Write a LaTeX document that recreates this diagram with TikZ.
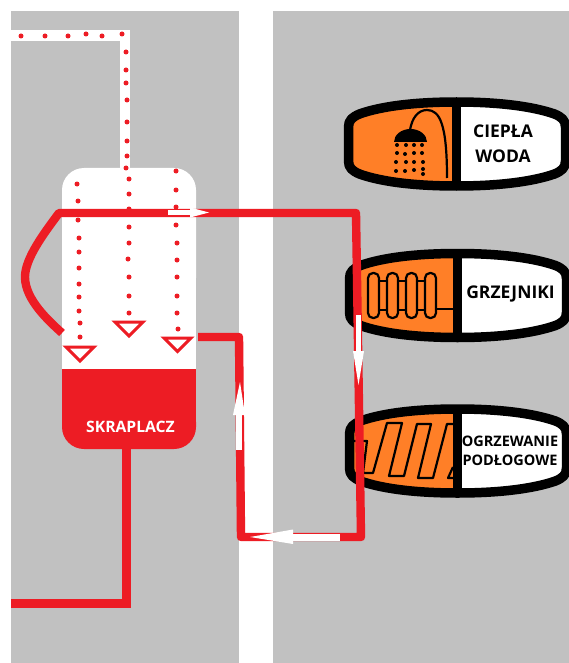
\documentclass[tikz,border=0pt]{standalone}
\usepackage{fontspec}
\setmainfont{Open Sans}
\definecolor{panel}{RGB}{193,193,193}
\definecolor{pipe}{RGB}{237,28,36}
\definecolor{heat}{RGB}{255,127,39}
\tikzset{
  pipeline/.style={draw=pipe,line width=8.4pt,line join=round},
  whitepipe/.style={draw=white,line width=10.5pt},
  dotty/.style={fill=pipe,circle,inner sep=0pt,minimum size=5pt},
  tri/.style={draw=pipe,fill=white,line width=3pt,line join=miter},
  badge/.style={draw=black,line width=9.5pt,line join=round},
  captext/.style={font=\bfseries\fontsize{17.5}{25}\selectfont,align=center,text=black,inner sep=0pt},
  icon/.style={draw=black,line width=2.2pt},
  fillarrow/.style={fill=white,draw=none}
}
\newcommand{\badgepath}{(-108,-17) .. controls (-108,-24) and (-104,-27) .. (-97,-30) .. controls (-75,-38) and (-40,-42) .. (0,-42) .. controls (40,-42) and (75,-38) .. (98,-30) .. controls (105,-27) and (109,-24) .. (109,-17) -- (109,17) .. controls (109,24) and (105,27) .. (98,30) .. controls (75,38) and (40,42) .. (0,42) .. controls (-40,42) and (-75,38) .. (-97,30) .. controls (-104,27) and (-108,24) .. (-108,17) -- cycle}
\newcommand{\badgeshape}[2]{%
  \begin{scope}[shift={(#1,#2)}]
    \begin{scope}
      \clip (-120,-50) rectangle (0,50);
      \fill[heat] \badgepath;
    \end{scope}
    \begin{scope}
      \clip (0,-50) rectangle (120,50);
      \fill[white] \badgepath;
    \end{scope}
  \end{scope}}
\newcommand{\badgeline}[2]{%
  \begin{scope}[shift={(#1,#2)}]
    \draw[badge] \badgepath;
    \draw[black,line width=9pt] (0,-42) -- (0,42);
  \end{scope}}
\begin{document}
\begin{tikzpicture}[x=1pt,y=-1pt]
\useasboundingbox (0,0) rectangle (569,663);
\fill[white] (0,0) rectangle (569,663);
\fill[panel] (11,11) rectangle (239,663);
\fill[panel] (273,11) rectangle (569,663);
% hot-vapour line
\draw[whitepipe,line join=miter] (11,35.5) -- (125,35.5) -- (125,175);
% condenser
\fill[white,rounded corners=22pt] (62,168) rectangle (196,300);
\fill[white] (62,200) rectangle (196,370);
\fill[pipe,rounded corners=22pt] (62,400) rectangle (196,449);
\fill[pipe] (62,369) rectangle (196,425);
\node[font=\bfseries\fontsize{15.7}{18}\selectfont,text=white,inner sep=0pt] (skr) at (130.5,426.5) {SKRAPLACZ};
% dots
\foreach \x/\y in {21/36,45/36,68/36,86/34,102/36,122/34,126/52,126/70,126/83,127/100,127/122,127/141,127/156,126/168,129/179,129/194,129/209,129/227,129/243,128/259,129/277,129/296,129/313,
 77/184,78/201,78/220,79/238,79/252,79/268,79/284,79/297,79/311,80/323,80/337,
 176/171,176/190,176/207,176/225,177/243,177/260,177/277,177/296,177/313,178/329}
  \node[dotty] at (\x,\y) {};
% triangles
\draw[tri] (66,347) -- (94,347) -- (80,361) -- cycle;
\draw[tri] (115,322) -- (143,322) -- (129,336) -- cycle;
\draw[tri] (164,338) -- (191,338) -- (177.5,351.5) -- cycle;
% badges
\badgeshape{456.5}{144}
\badgeshape{457.5}{295.5}
\badgeshape{457.5}{451}
% shower icon
\fill[black] (394,142) arc[start angle=180,end angle=360,x radius=16.5,y radius=13] -- cycle;
\draw[icon] (410,130) .. controls (412,118) and (418,110) .. (427,110) .. controls (440,110) and (447,125) .. (447,178);
\foreach \x/\y in {397/145,406/145,414/145,422/145,397/153,405/154,414/153,422/153,396/162,406/162,414/162,423/162,396/171,405/171,414/170,423/169,423/174}
  \fill[black] (\x,\y) circle[radius=2];
% radiator icon
\foreach \x in {368,387,406,425}
  \draw[icon,rounded corners=5pt] (\x,273) rectangle ++(11,45);
\draw[icon] (379,281) -- (387,281) (398,281) -- (406,281) (417,281) -- (425,281);
\draw[icon] (379,310) -- (387,310) (398,310) -- (406,310) (417,310) -- (425,310);
\draw[icon] (436,309) -- (453,309);
% floor-heating icon
\draw[icon,line join=round] (352,441) -- (367,441) -- (363,473) -- (373,473) -- (387,423) -- (402,423) -- (389,476) -- (404,476) -- (417,424) -- (431,424) -- (418,478) -- (433,478) -- (447,424) -- (454,424);
\draw[icon,line join=round] (453,467) -- (448,478) -- (454,478);
% badge outlines and dividers
\badgeline{456.5}{144}
\badgeline{457.5}{295.5}
\badgeline{457.5}{451}
\node[captext] (c1) at (503,144) {CIEPŁA\\WODA};
\node[captext] (c2) at (510.5,294) {GRZEJNIKI};
\node[captext,font=\bfseries\fontsize{14.5}{19}\selectfont] (c3) at (510,451) {OGRZEWANIE\\PODŁOGOWE};
% red circuit
\draw[pipeline] (62,333) .. controls (50,322) and (25,300) .. (25,277) .. controls (25,258) and (45,232) .. (59,213) -- (356,213) -- (361,537) -- (241,537) -- (239,337) -- (198,337);
\draw[pipeline,line join=miter] (126.5,449) -- (126.5,603.5) -- (11,603.5);
% white arrows
\fill[fillarrow] (168,210) rectangle (190,215);
\fill[fillarrow] (190,207.5) -- (209,212.5) -- (190,217.5) -- cycle;
\fill[fillarrow] (356,315) rectangle (361,351);
\fill[fillarrow] (353,351) -- (364,351) -- (358.5,385) -- cycle;
\fill[fillarrow] (293,534) rectangle (340,540.5);
\fill[fillarrow] (293,529.5) -- (293,544) -- (250,537) -- cycle;
\fill[fillarrow] (236,415) rectangle (241.7,450);
\fill[fillarrow] (233,415) -- (245,415) -- (240,382) -- cycle;
\end{tikzpicture}
\end{document}
